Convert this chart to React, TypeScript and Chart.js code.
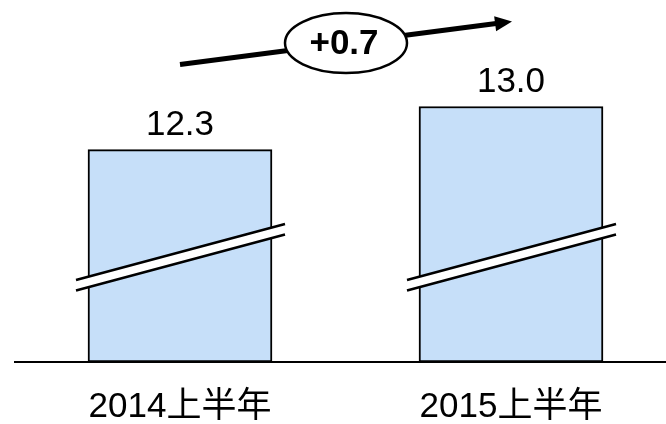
import { useEffect, useRef } from "react";
import { Chart, registerables } from "chart.js";

Chart.register(...registerables);

const categories = ["2014上半年", "2015上半年"];
const values = [12.3, 13.0];
const yMin = 8.85;
const yMax = 14.73;

const FONT = "'Liberation Sans', Arial, 'Noto Sans CJK SC', sans-serif";

const decorPlugin = {
  id: "decor",
  afterDatasetsDraw(chart: any) {
    const ctx: CanvasRenderingContext2D = chart.ctx;
    const area = chart.chartArea;
    const bars = chart.getDatasetMeta(0).data as any[];
    ctx.save();

    // axis-break marks
    bars.forEach((bar) => {
      const x0 = bar.x - bar.width / 2 - 12;
      const x1 = bar.x + bar.width / 2 + 13;
      const y0 = area.bottom - 82;
      const y1 = area.bottom - 138;
      const g = 10.5;
      ctx.fillStyle = "#ffffff";
      ctx.beginPath();
      ctx.moveTo(x0, y0);
      ctx.lineTo(x1, y1);
      ctx.lineTo(x1, y1 + g);
      ctx.lineTo(x0, y0 + g);
      ctx.closePath();
      ctx.fill();
      ctx.strokeStyle = "#000000";
      ctx.lineWidth = 2.5;
      ctx.beginPath();
      ctx.moveTo(x0, y0);
      ctx.lineTo(x1, y1);
      ctx.moveTo(x0, y0 + g);
      ctx.lineTo(x1, y1 + g);
      ctx.stroke();
    });

    // baseline
    ctx.strokeStyle = "#000000";
    ctx.lineWidth = 2;
    ctx.beginPath();
    ctx.moveTo(14, area.bottom);
    ctx.lineTo(chart.width, area.bottom);
    ctx.stroke();

    // value labels
    ctx.fillStyle = "#000000";
    ctx.font = `35px ${FONT}`;
    ctx.textAlign = "center";
    ctx.textBaseline = "alphabetic";
    bars.forEach((bar, i) => {
      ctx.fillText(values[i].toFixed(1), bar.x, bar.y - 15);
    });

    // trend arrow
    if (bars.length >= 2) {
      const sx = bars[0].x;
      const sy = bars[0].y - 85;
      const ex = bars[1].x + 1;
      const ey = bars[1].y - 85;
      const ang = Math.atan2(ey - sy, ex - sx);
      const headLen = 17;
      const headHalf = 7.5;
      const bx = ex - headLen * Math.cos(ang);
      const by = ey - headLen * Math.sin(ang);
      ctx.strokeStyle = "#000000";
      ctx.lineWidth = 5;
      ctx.beginPath();
      ctx.moveTo(sx, sy);
      ctx.lineTo(bx + Math.cos(ang), by + Math.sin(ang));
      ctx.stroke();
      ctx.fillStyle = "#000000";
      ctx.beginPath();
      ctx.moveTo(ex, ey);
      ctx.lineTo(bx + headHalf * Math.sin(ang), by - headHalf * Math.cos(ang));
      ctx.lineTo(bx - headHalf * Math.sin(ang), by + headHalf * Math.cos(ang));
      ctx.closePath();
      ctx.fill();

      const cx = (sx + ex) / 2;
      const cy = (sy + ey) / 2;
      ctx.fillStyle = "#ffffff";
      ctx.strokeStyle = "#000000";
      ctx.lineWidth = 2.5;
      ctx.beginPath();
      ctx.ellipse(cx, cy, 61, 30, 0, 0, Math.PI * 2);
      ctx.fill();
      ctx.stroke();

      const delta = values[1] - values[0];
      ctx.fillStyle = "#000000";
      ctx.font = `bold 35px ${FONT}`;
      ctx.textAlign = "center";
      ctx.textBaseline = "alphabetic";
      ctx.fillText((delta >= 0 ? "+" : "") + delta.toFixed(1), cx - 2, cy + 11);
    }
    ctx.restore();
  },
};

export default function App() {
  const ref = useRef<HTMLCanvasElement>(null);
  useEffect(() => {
    if (!ref.current) return;
    const chart = new Chart(ref.current, {
      type: "bar",
      data: {
        labels: categories,
        datasets: [
          {
            data: values,
            base: yMin,
            backgroundColor: "#C6DFF9",
            borderColor: "#000000",
            borderWidth: 2,
            borderSkipped: false,
            barThickness: 184,
            clip: false as any,
          } as any,
        ],
      },
      options: {
        responsive: false,
        animation: false,
        events: [],
        layout: { padding: { left: 180, right: 155, top: 0, bottom: 0 } },
        plugins: { legend: { display: false }, tooltip: { enabled: false } },
        scales: {
          x: {
            type: "category",
            offset: false,
            grid: { display: false, drawTicks: false },
            border: { display: false },
            afterFit: (scale: any) => {
              scale.height = 62;
            },
            ticks: {
              color: "#000000",
              font: { size: 35, family: FONT, lineHeight: 1.2 },
              padding: 24,
              maxRotation: 0,
              autoSkip: false,
            },
          },
          y: {
            display: false,
            min: yMin,
            max: yMax,
          },
        },
      },
      plugins: [decorPlugin],
    });
    return () => chart.destroy();
  }, []);
  return (
    <div style={{ position: "absolute", left: 0, top: 0, width: 666, height: 424, background: "#fff" }}>
      <canvas ref={ref} width={666} height={424} style={{ display: "block" }} />
    </div>
  );
}
